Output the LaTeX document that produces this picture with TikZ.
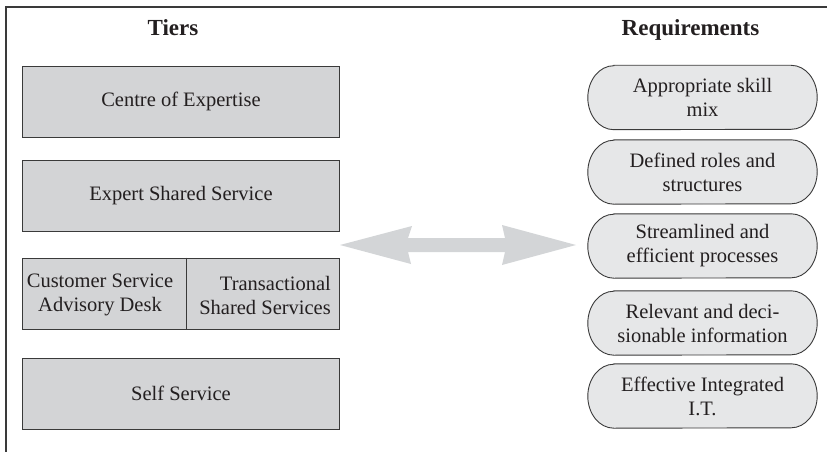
\documentclass[tikz,border=0pt]{standalone}
\usepackage{fontspec}
\setmainfont{Liberation Serif}
\usetikzlibrary{backgrounds}
\definecolor{boxgray}{HTML}{D3D4D6}
\definecolor{capgray}{HTML}{E6E7E8}
\definecolor{arrowgray}{HTML}{D3D5D7}
\definecolor{linedark}{HTML}{3A3A3A}
\definecolor{inkdark}{HTML}{231F20}
\tikzset{
  tierbox/.style={draw=linedark, line width=0.9pt, fill=boxgray, minimum width=317pt, minimum height=71pt, inner sep=0pt, anchor=north west},
  celltext/.style={inner sep=0pt, text=inkdark, font=\fontsize{20.5}{24}\selectfont},
  bodytext/.style={text=inkdark, font=\fontsize{20.5}{24}\selectfont, align=center},
  headtext/.style={text=inkdark, font=\fontsize{23}{27}\selectfont\bfseries, anchor=base},
  req/.style={minimum width=229pt, minimum height=64pt, inner sep=0pt, text=inkdark, font=\fontsize{20.5}{24}\selectfont, align=center},
  capsule/.style={draw=linedark, line width=0.9pt, fill=capgray},
  frameline/.style={draw=linedark, line width=1.3pt},
}
\begin{document}
\begin{tikzpicture}[x=1pt, y=-1pt]
\useasboundingbox (0,0) rectangle (827,452);
% frame
\coordinate (fTR) at (827,7);
\coordinate (fTL) at (6,7);
\coordinate (fBL) at (6,452);
\draw[frameline] (fTR) -- (fTL) -- (fBL);
% headings
\node[headtext] (tiers) at (173,36) {Tiers};
\node[headtext] (reqs) at (690.5,36) {Requirements};
% tiers
\node[tierbox, bodytext] (coe) at (22,66) {Centre of Expertise};
\node[tierbox, bodytext] (ess) at (22,159.5) {Expert Shared Service};
\node[tierbox] (csrow) at (22,257.5) {};
\coordinate (divT) at (186,257.5);
\coordinate (divB) at (186,328.5);
\draw[draw=linedark, line width=0.9pt] (divT) -- (divB);
\node[celltext, align=center] (csad) at (100,295) {Customer Service\\Advisory Desk};
\node[celltext, align=right, anchor=east] (tss) at (331,295) {Transactional\\Shared Services};
\node[tierbox, bodytext] (self) at (22,357.5) {Self Service};
% arrow
\coordinate (aL) at (340,245);
\coordinate (aR) at (576,245);
\fill[arrowgray] (aL) -- (412,226) -- (408,238) -- (505,238) -- (502,225) -- (aR) -- (502,265) -- (505,252) -- (408,252) -- (411,264) -- cycle;
% requirements
\node[req] (r1) at (702.5,97.5) {Appropriate skill\\mix};
\node[req] (r2) at (702.5,172) {Defined roles and\\structures};
\node[req] (r3) at (702.5,246) {Streamlined and\\efficient processes};
\node[req] (r4) at (702.5,323) {Relevant and deci-\\sionable information};
\node[req] (r5) at (702.5,396) {Effective Integrated\\I.T.};
\begin{scope}[on background layer]
\foreach \n in {r1,r2,r3,r4,r5}{
  \filldraw[capsule] ([xshift=26pt]\n.north west) -- ([xshift=-26pt]\n.north east)
    arc[start angle=90, end angle=-90, x radius=26pt, y radius=32pt]
    -- ([xshift=26pt]\n.south west)
    arc[start angle=270, end angle=90, x radius=26pt, y radius=32pt] -- cycle;
}
\end{scope}
\end{tikzpicture}
\end{document}
